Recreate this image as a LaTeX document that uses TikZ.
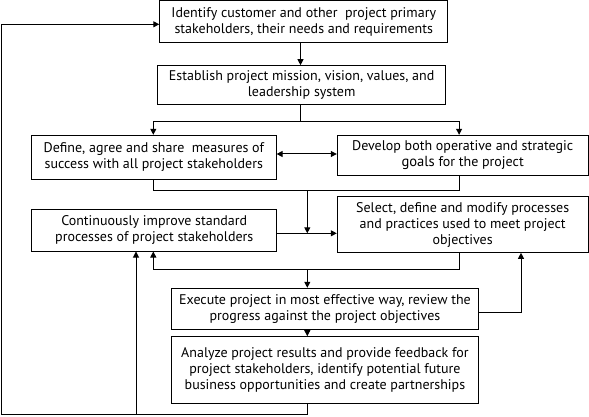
\documentclass[tikz,border=0pt]{standalone}
\usepackage{fontspec}
\setmainfont{PT Sans}
\usetikzlibrary{arrows.meta}
\begin{document}
\begin{tikzpicture}[x=1pt,y=-1pt,
  line width=1pt,
  box/.style={draw, line width=1pt, inner sep=0pt, align=center,
    font=\fontsize{14}{16}\selectfont},
  arr/.style={-{Triangle[length=6pt,width=6pt]}},
  arrb/.style={{Triangle[length=6pt,width=6pt]}-{Triangle[length=6pt,width=6pt]}}]
\useasboundingbox (0,0) rectangle (589,417);
\node[box, minimum width=288pt, minimum height=42pt] (b1) at (303.75,21.8)
  {Identify customer and other\ \ project primary\\stakeholders, their needs and requirements};
\node[box, minimum width=288.5pt, minimum height=38.6pt] (b2) at (301.65,85)
  {Establish project mission, vision, values, and\\leadership system};
\node[box, minimum width=244.5pt, minimum height=43.7pt] (b3) at (153.85,157.15)
  {Define, agree and share\ \ measures of\\success with all project stakeholders};
\node[box, minimum width=250.7pt, minimum height=40.4pt] (b4) at (462.65,155.5)
  {Develop both operative and strategic\\{\fontsize{14.6}{16}\selectfont goals} for the project};
\node[box, minimum width=245.3pt, minimum height=42pt] (b5) at (154.25,230)
  {Continuously improve standard\\processes of project stakeholders};
\node[box, minimum width=250.7pt, minimum height=55.6pt] (b6) at (462.65,224.5)
  {Select, define and modify processes\\and practices used to meet project\\objectives};
\node[box, minimum width=306.5pt, minimum height=41pt] (b7) at (324.95,308.8)
  {Execute project in most effective way, review the\\progress against the project objectives};
\node[box, minimum width=306.5pt, minimum height=66.6pt] (b8) at (324.95,370)
  {Analyze project results and provide feedback for\\project stakeholders, identify potential future\\business opportunities and create partnerships};
% helper coordinates
\coordinate (xm) at (300.5,0);
\coordinate (xl) at (153.3,0);
\coordinate (xr) at (459.1,0);
\coordinate (xc) at (307.3,0);
\coordinate (xe) at (521,0);
\coordinate (xf) at (1,0);
\coordinate (xb) at (136,0);
\coordinate (j1) at (300.5,121.7);
\coordinate (y2) at (0,154);
\coordinate (j2) at (307.3,190.3);
\coordinate (j3) at (307.3,233.3);
\coordinate (j4) at (307.3,269.3);
\coordinate (y5) at (0,312.3);
\coordinate (j6) at (307.3,414.7);
\coordinate (y6) at (0,24.3);
% connectors
\draw[arr] (b1.south -| xm) -- (b2.north -| xm);
\draw (b2.south -| xm) -- (j1);
\draw[arr] (j1) -| (b3.north -| xl);
\draw[arr] (j1) -| (b4.north -| xr);
\draw[arrb] (b3.east |- y2) -- (b4.west |- y2);
\draw (b3.south -| xl) |- (j2) -| (b4.south -| xr);
\draw[arr] (j2) -- (j3);
\draw[arr] (b5.east |- j3) -- (b6.west |- j3);
\draw[arr] (b6.south -| xr) |- (xl |- j4) -- (b5.south -| xl);
\draw[arr] (j4) -- (b7.north -| xc);
\draw[arr] (b7.east |- y5) -| (b6.south -| xe);
\draw[arr] (b7.south -| xc) -- (b8.north -| xc);
\draw[arr] (b8.south -| xc) |- (xf |- j6) |- (b1.west |- y6);
\draw[arr] (xb |- j6) -- (b5.south -| xb);
\end{tikzpicture}
\end{document}
